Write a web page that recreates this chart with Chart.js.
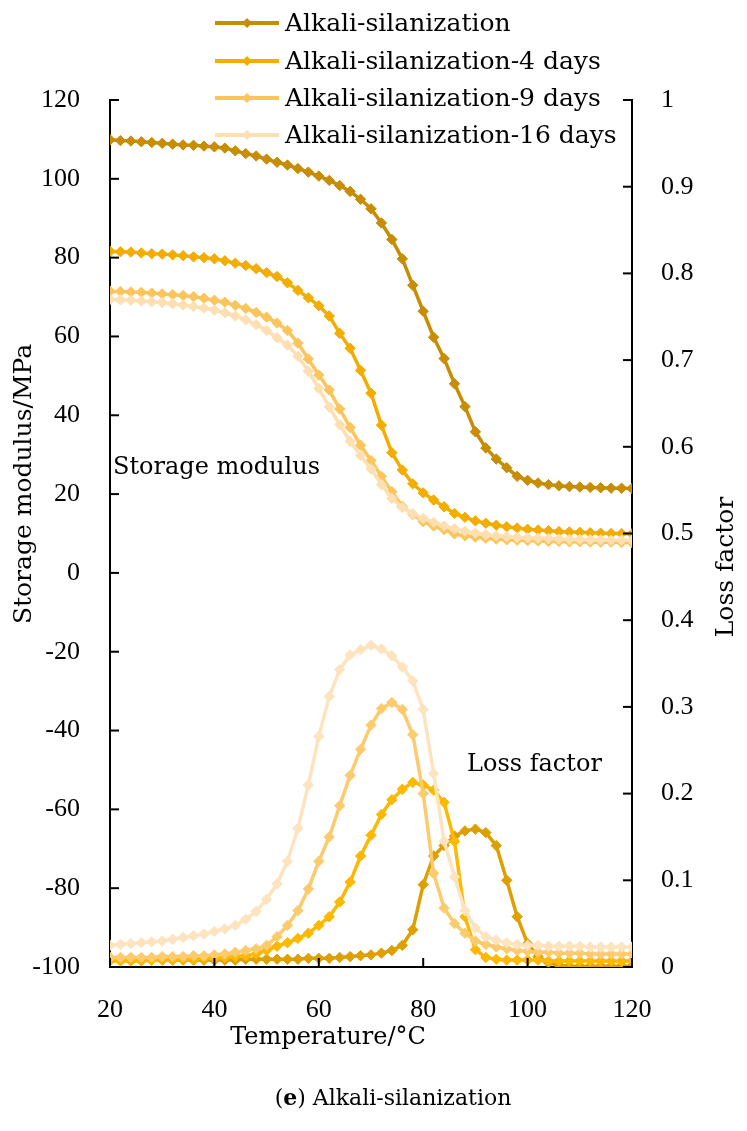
<!DOCTYPE html>
<html>
<head>
<meta charset="utf-8">
<script src="https://cdn.jsdelivr.net/npm/chart.js@4.4.1/dist/chart.umd.min.js"></script>
<style>
html,body{margin:0;padding:0;background:#fff;}
#wrap{width:747px;height:1131px;position:relative;}
</style>
</head>
<body>
<div id="wrap"><canvas id="c" width="747" height="1131"></canvas></div>
<script>
// ---- data ----
const temperatures = [20,22,24,26,28,30,32,34,36,38,40,42,44,46,48,50,52,54,56,58,60,62,64,66,68,70,72,74,76,78,80,82,84,86,88,90,92,94,96,98,100,102,104,106,108,110,112,114,116,118,120];

const storageAS = [109.9,109.7,109.6,109.4,109.2,109.0,108.8,108.6,108.5,108.3,108.1,107.8,107.1,106.4,105.8,105.0,104.2,103.5,102.6,101.7,100.7,99.6,98.3,96.8,94.8,92.4,88.8,84.6,79.7,73.0,66.4,59.8,54.4,48.0,42.2,35.8,31.7,28.9,26.7,24.5,23.5,22.8,22.4,22.1,21.9,21.8,21.7,21.6,21.5,21.5,21.4];
const storageAS4 = [81.6,81.5,81.4,81.2,81.0,80.9,80.7,80.5,80.2,80.0,79.7,79.2,78.6,78.0,77.2,76.2,75.2,73.6,71.7,69.8,67.8,65.2,60.8,57.0,51.4,45.6,37.5,30.5,26.1,22.6,20.3,18.5,16.8,15.1,14.1,13.2,12.6,12.1,11.7,11.4,11.1,10.9,10.7,10.5,10.4,10.3,10.2,10.1,10.0,10.0,9.9];
const storageAS9 = [71.5,71.4,71.3,71.2,71.0,70.8,70.6,70.4,70.1,69.7,69.2,68.7,67.9,67.1,66.1,64.9,63.4,61.5,58.3,54.3,50.2,46.4,41.6,36.9,32.4,28.5,24.5,20.6,16.9,14.8,13.0,11.9,11.0,9.9,9.4,9.1,8.8,8.6,8.4,8.3,8.2,8.1,8.0,8.0,7.9,7.9,7.8,7.8,7.8,7.7,7.7];
const storageAS16 = [69.4,69.3,69.2,69.0,68.8,68.6,68.3,68.0,67.6,67.2,66.7,66.0,65.2,64.2,63.0,61.5,59.7,57.8,55.0,51.2,46.8,42.1,37.6,33.4,29.8,26.4,22.4,18.9,16.6,15.0,13.8,12.8,11.9,11.2,10.6,10.1,9.7,9.4,9.2,9.0,8.9,8.8,8.7,8.6,8.5,8.5,8.4,8.4,8.3,8.3,8.3];

const lossAS = [0.008,0.008,0.008,0.008,0.008,0.008,0.008,0.008,0.008,0.008,0.008,0.008,0.008,0.009,0.009,0.009,0.009,0.009,0.009,0.010,0.010,0.010,0.011,0.012,0.013,0.014,0.016,0.019,0.025,0.043,0.095,0.128,0.140,0.151,0.157,0.159,0.155,0.140,0.100,0.058,0.027,0.012,0.005,0.002,0.001,0.001,0.001,0.001,0.001,0.001,0.001];
const lossAS4 = [0.007,0.007,0.007,0.007,0.008,0.008,0.008,0.009,0.009,0.010,0.010,0.011,0.012,0.013,0.015,0.019,0.024,0.028,0.033,0.039,0.048,0.058,0.075,0.098,0.128,0.152,0.176,0.193,0.205,0.213,0.210,0.204,0.190,0.145,0.058,0.020,0.011,0.009,0.008,0.008,0.008,0.008,0.007,0.007,0.007,0.007,0.007,0.007,0.007,0.007,0.007];
const lossAS9 = [0.011,0.011,0.011,0.011,0.011,0.012,0.012,0.012,0.013,0.013,0.014,0.015,0.017,0.019,0.021,0.025,0.035,0.048,0.065,0.090,0.122,0.150,0.186,0.221,0.251,0.279,0.298,0.305,0.297,0.268,0.200,0.108,0.068,0.050,0.039,0.030,0.026,0.023,0.021,0.019,0.018,0.017,0.017,0.016,0.016,0.016,0.015,0.015,0.015,0.015,0.015];
const lossAS16 = [0.025,0.026,0.027,0.028,0.029,0.030,0.032,0.034,0.036,0.038,0.041,0.044,0.048,0.055,0.064,0.078,0.096,0.122,0.160,0.210,0.266,0.312,0.343,0.360,0.366,0.371,0.367,0.359,0.346,0.330,0.297,0.223,0.145,0.104,0.065,0.045,0.035,0.031,0.028,0.026,0.025,0.025,0.024,0.024,0.024,0.024,0.023,0.023,0.023,0.023,0.023];

const seriesNames = ['Alkali-silanization','Alkali-silanization-4 days','Alkali-silanization-9 days','Alkali-silanization-16 days'];
const storageColors = ['#C68D05','#F2AD00','#FBC55C','#FDDFB2'];
const lossColors = ['#DDA000','#FDB800','#FCCB6E','#FDE3BE'];

const xTicks = [20,40,60,80,100,120];
const leftTicks = [-100,-80,-60,-40,-20,0,20,40,60,80,100,120];
const rightTicks = [0,0.1,0.2,0.3,0.4,0.5,0.6,0.7,0.8,0.9,1];

const TEXT_FONT = '"DejaVu Serif", serif';
const NUM_FONT = '"Liberation Serif", serif';

function pts(arr){ return temperatures.map((t,i)=>({x:t,y:arr[i]})); }

function ds(label, arr, color, axis){
  return {
    label, data: pts(arr), yAxisID: axis,
    borderColor: color, backgroundColor: color,
    borderWidth: 3.5, pointStyle: 'rectRot', pointRadius: 5.2,
    pointBorderWidth: 1, pointBorderColor: color, pointBackgroundColor: color,
    tension: 0, fill: false
  };
}

const datasets = [
  ds(seriesNames[3]+' tanδ', lossAS16, lossColors[3], 'y2'),
  ds(seriesNames[2]+' tanδ', lossAS9, lossColors[2], 'y2'),
  ds(seriesNames[1]+' tanδ', lossAS4, lossColors[1], 'y2'),
  ds(seriesNames[0]+' tanδ', lossAS, lossColors[0], 'y2'),
  ds(seriesNames[3], storageAS16, storageColors[3], 'y'),
  ds(seriesNames[2], storageAS9, storageColors[2], 'y'),
  ds(seriesNames[1], storageAS4, storageColors[1], 'y'),
  ds(seriesNames[0], storageAS, storageColors[0], 'y'),
];

const decor = {
  id: 'decor',
  afterDraw(chart){
    const ctx = chart.ctx;
    const xs = chart.scales.x, ys = chart.scales.y, y2 = chart.scales.y2;
    const ca = chart.chartArea;
    ctx.save();
    ctx.strokeStyle = '#000'; ctx.lineWidth = 2;
    // inward ticks
    const TL = 9;
    leftTicks.forEach(v=>{ const p=ys.getPixelForValue(v); ctx.beginPath(); ctx.moveTo(ca.left,p); ctx.lineTo(ca.left+TL,p); ctx.stroke(); });
    rightTicks.forEach(v=>{ const p=y2.getPixelForValue(v); ctx.beginPath(); ctx.moveTo(ca.right,p); ctx.lineTo(ca.right-TL,p); ctx.stroke(); });
    xTicks.forEach(v=>{ const p=xs.getPixelForValue(v); ctx.beginPath(); ctx.moveTo(p,ca.bottom); ctx.lineTo(p,ca.bottom-TL); ctx.stroke(); });

    ctx.fillStyle = '#000';
    ctx.font = '25px ' + TEXT_FONT;
    // axis titles
    ctx.save(); ctx.translate(24, 484); ctx.rotate(-Math.PI/2);
    ctx.textAlign='center'; ctx.textBaseline='middle';
    ctx.fillText('Storage modulus/MPa',0,0); ctx.restore();
    ctx.save(); ctx.translate(726, 567); ctx.rotate(-Math.PI/2);
    ctx.textAlign='center'; ctx.textBaseline='middle';
    ctx.fillText('Loss factor',0,0); ctx.restore();
    ctx.font = '24px ' + TEXT_FONT;
    ctx.textAlign='center'; ctx.textBaseline='middle';
    ctx.fillText('Temperature/\u00B0C', 328, 1038);

    // in-plot labels
    ctx.textAlign='left';
    ctx.fillText('Storage modulus', 113, 468);
    ctx.fillText('Loss factor', 467, 765);

    // legend
    const rows = [23, 61, 98, 135];
    ctx.font = '25px ' + TEXT_FONT;
    seriesNames.forEach((n,i)=>{
      const y = rows[i];
      ctx.strokeStyle = storageColors[i]; ctx.lineWidth = 4;
      ctx.beginPath(); ctx.moveTo(215,y); ctx.lineTo(279,y); ctx.stroke();
      ctx.fillStyle = storageColors[i];
      ctx.beginPath(); ctx.moveTo(247-5,y); ctx.lineTo(247,y-5); ctx.lineTo(247+5,y); ctx.lineTo(247,y+5); ctx.closePath(); ctx.fill();
      ctx.fillStyle = '#000'; ctx.textAlign='left'; ctx.textBaseline='middle';
      ctx.fillText(n, 285, y+1);
    });

    // caption
    ctx.textBaseline='middle';
    const p1='(', p2='e', p3=') Alkali-silanization';
    ctx.font = '22px ' + TEXT_FONT; const w1=ctx.measureText(p1).width, w3=ctx.measureText(p3).width;
    ctx.font = 'bold 22px ' + TEXT_FONT; const w2=ctx.measureText(p2).width;
    let x0 = 393 - (w1+w2+w3)/2;
    ctx.textAlign='left';
    ctx.font = '22px ' + TEXT_FONT; ctx.fillText(p1,x0,1099);
    ctx.font = 'bold 22px ' + TEXT_FONT; ctx.fillText(p2,x0+w1,1099);
    ctx.font = '22px ' + TEXT_FONT; ctx.fillText(p3,x0+w1+w2,1099);
    ctx.restore();
  }
};

const fmt = v => { const r = Math.round(v*10)/10; return String(r); };

new Chart(document.getElementById('c'), {
  type: 'line',
  data: { datasets },
  options: {
    responsive: false, animation: false, devicePixelRatio: 1,
    layout: { padding: { top: 100, left: 0, right: 0, bottom: 0 } },
    plugins: { legend: { display: false }, title: { display: false }, tooltip: { enabled: false } },
    scales: {
      x: {
        type: 'linear', position: 'bottom', min: 20, max: 120,
        afterFit: s => { s.height = 164; },
        afterBuildTicks: s => { s.ticks = xTicks.map(v=>({value:v})); },
        grid: { display: false, drawTicks: false, tickLength: 0 },
        border: { display: true, color: '#000', width: 2 },
        ticks: { color: '#000', padding: 28, font: { family: NUM_FONT, size: 26 }, maxRotation: 0, callback: v => String(v) }
      },
      y: {
        type: 'linear', position: 'left', min: -100, max: 120,
        afterFit: s => { s.width = 110; },
        afterBuildTicks: s => { s.ticks = leftTicks.map(v=>({value:v})); },
        grid: { display: false, drawTicks: false, tickLength: 0 },
        border: { display: true, color: '#000', width: 2 },
        ticks: { color: '#000', padding: 30, font: { family: NUM_FONT, size: 26 }, callback: v => String(v) }
      },
      y2: {
        type: 'linear', position: 'right', min: 0, max: 1,
        afterFit: s => { s.width = 115; },
        afterBuildTicks: s => { s.ticks = rightTicks.map(v=>({value:v})); },
        grid: { display: false, drawTicks: false, tickLength: 0 },
        border: { display: true, color: '#000', width: 2 },
        ticks: { color: '#000', padding: 29, font: { family: NUM_FONT, size: 26 }, callback: fmt }
      }
    }
  },
  plugins: [decor]
});
</script>
</body>
</html>
